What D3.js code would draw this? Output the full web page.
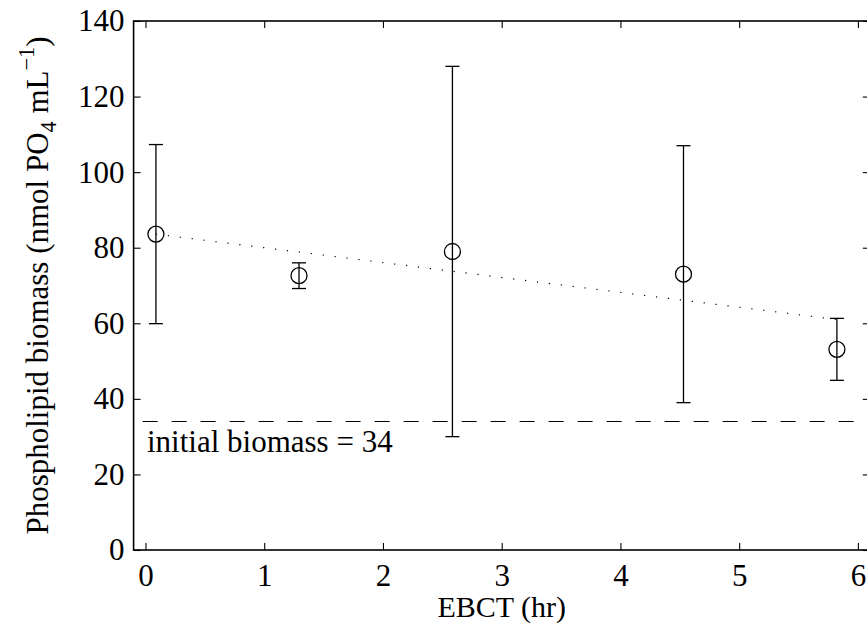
<!DOCTYPE html>
<html>
<head>
<meta charset="utf-8">
<script src="https://cdn.jsdelivr.net/npm/d3@7"></script>
<style>
  html, body { margin: 0; padding: 0; background: #fff; }
  svg { display: block; }
  svg text { font-family: "Liberation Serif", "Times New Roman", Times, "Nimbus Roman", "DejaVu Serif", serif !important; fill: #000; }
</style>
</head>
<body>
<svg id="chart" width="867" height="625"></svg>
<script>
// ---- data ----
const ebct = [0.088, 1.293, 2.585, 4.531, 5.823];          // EBCT (hr)
const biomass = [83.6, 72.6, 79.0, 73.0, 53.1];           // mean phospholipid biomass
const errHalf = [23.7, 3.4, 49.0, 34.0, 8.2];             // error bar half-width
const trendX = [0.088, 5.823];                            // dotted trend line ends
const trendY = [83.6, 61.0];
const initialBiomass = 34;
const xTicks = [0, 1, 2, 3, 4, 5, 6];
const yTicks = [0, 20, 40, 60, 80, 100, 120, 140];
const xDomain = [-0.1, 6.1];
const yDomain = [0, 140];

(function () {
// ---- layout ----
const FS = 31;
const svg = d3.select("#chart");
const pL = 133.6, pR = 869.8, pT = 21, pB = 550;
const x = d3.scaleLinear().domain(xDomain).range([pL, pR]);
const y = d3.scaleLinear().domain(yDomain).range([pB, pT]);

// axes
const gB = svg.append("g").attr("transform", `translate(0,${pB})`)
  .call(d3.axisBottom(x).tickValues(xTicks).tickSize(-7).tickSizeOuter(0).tickPadding(14).tickFormat(d3.format("d")));
const gT = svg.append("g").attr("transform", `translate(0,${pT})`)
  .call(d3.axisTop(x).tickValues(xTicks).tickSize(-7).tickSizeOuter(0).tickFormat(""));
const gL = svg.append("g").attr("transform", `translate(${pL},0)`)
  .call(d3.axisLeft(y).tickValues(yTicks).tickSize(-7).tickSizeOuter(0).tickPadding(9).tickFormat(d3.format("d")));
const gR = svg.append("g").attr("transform", `translate(${pR},0)`)
  .call(d3.axisRight(y).tickValues(yTicks).tickSize(-7).tickSizeOuter(0).tickFormat(""));
[gB, gT, gL, gR].forEach(g => {
  g.attr("font-family", null);
  g.select(".domain").remove();
  g.selectAll(".tick line").attr("stroke", "#000").attr("stroke-width", 1.1);
  g.selectAll(".tick text").attr("font-size", FS).attr("fill", "#000");
});

// box
svg.append("rect").attr("x", pL).attr("y", pT)
  .attr("width", pR - pL).attr("height", pB - pT)
  .attr("fill", "none").attr("stroke", "#000").attr("stroke-width", 1.6);

// initial biomass dashed line
svg.append("line")
  .attr("x1", x(xDomain[0])).attr("x2", x(xDomain[1]))
  .attr("y1", y(initialBiomass)).attr("y2", y(initialBiomass))
  .attr("stroke", "#000").attr("stroke-width", 1.1).attr("stroke-dasharray", "15,14")
  .attr("stroke-dashoffset", -9);
svg.append("text").attr("x", 147).attr("y", 452).attr("font-size", FS)
  .text("initial biomass = " + initialBiomass);

// dotted trend line
svg.append("path")
  .datum(trendX.map((d, i) => [d, trendY[i]]))
  .attr("d", d3.line().x(d => x(d[0])).y(d => y(d[1])))
  .attr("fill", "none").attr("stroke", "#000").attr("stroke-width", 1.2)
  .attr("stroke-dasharray", "1.2,10.8");

// error bars
const pts = ebct.map((d, i) => ({ x: d, y: biomass[i], e: errHalf[i] }));
const eb = svg.append("g").attr("stroke", "#000").attr("stroke-width", 1.3).attr("fill", "none");
pts.forEach(p => {
  eb.append("line").attr("x1", x(p.x)).attr("x2", x(p.x)).attr("y1", y(p.y - p.e)).attr("y2", y(p.y + p.e));
  eb.append("line").attr("x1", x(p.x) - 7).attr("x2", x(p.x) + 7).attr("y1", y(p.y + p.e)).attr("y2", y(p.y + p.e));
  eb.append("line").attr("x1", x(p.x) - 7).attr("x2", x(p.x) + 7).attr("y1", y(p.y - p.e)).attr("y2", y(p.y - p.e));
});
svg.append("g").selectAll("circle").data(pts).join("circle")
  .attr("cx", d => x(d.x)).attr("cy", d => y(d.y)).attr("r", 8)
  .attr("fill", "none").attr("stroke", "#000").attr("stroke-width", 1.3);

// axis titles
svg.append("text").attr("x", (pL + pR) / 2).attr("y", 617)
  .attr("text-anchor", "middle").attr("font-size", 30).text("EBCT (hr)");

const yl = svg.append("text").attr("transform", `translate(48,${(pT + pB) / 2}) rotate(-90)`)
  .attr("text-anchor", "middle").attr("font-size", FS);
yl.append("tspan").text("Phospholipid biomass (nmol PO");
yl.append("tspan").attr("font-size", FS * 0.72).attr("dy", 8).text("4");
yl.append("tspan").attr("dy", -8).text(" mL");
yl.append("tspan").attr("font-size", FS * 0.72).attr("dy", -14).text("\u22121");
yl.append("tspan").attr("dy", 14).text(")");
})();
</script>
</body>
</html>
